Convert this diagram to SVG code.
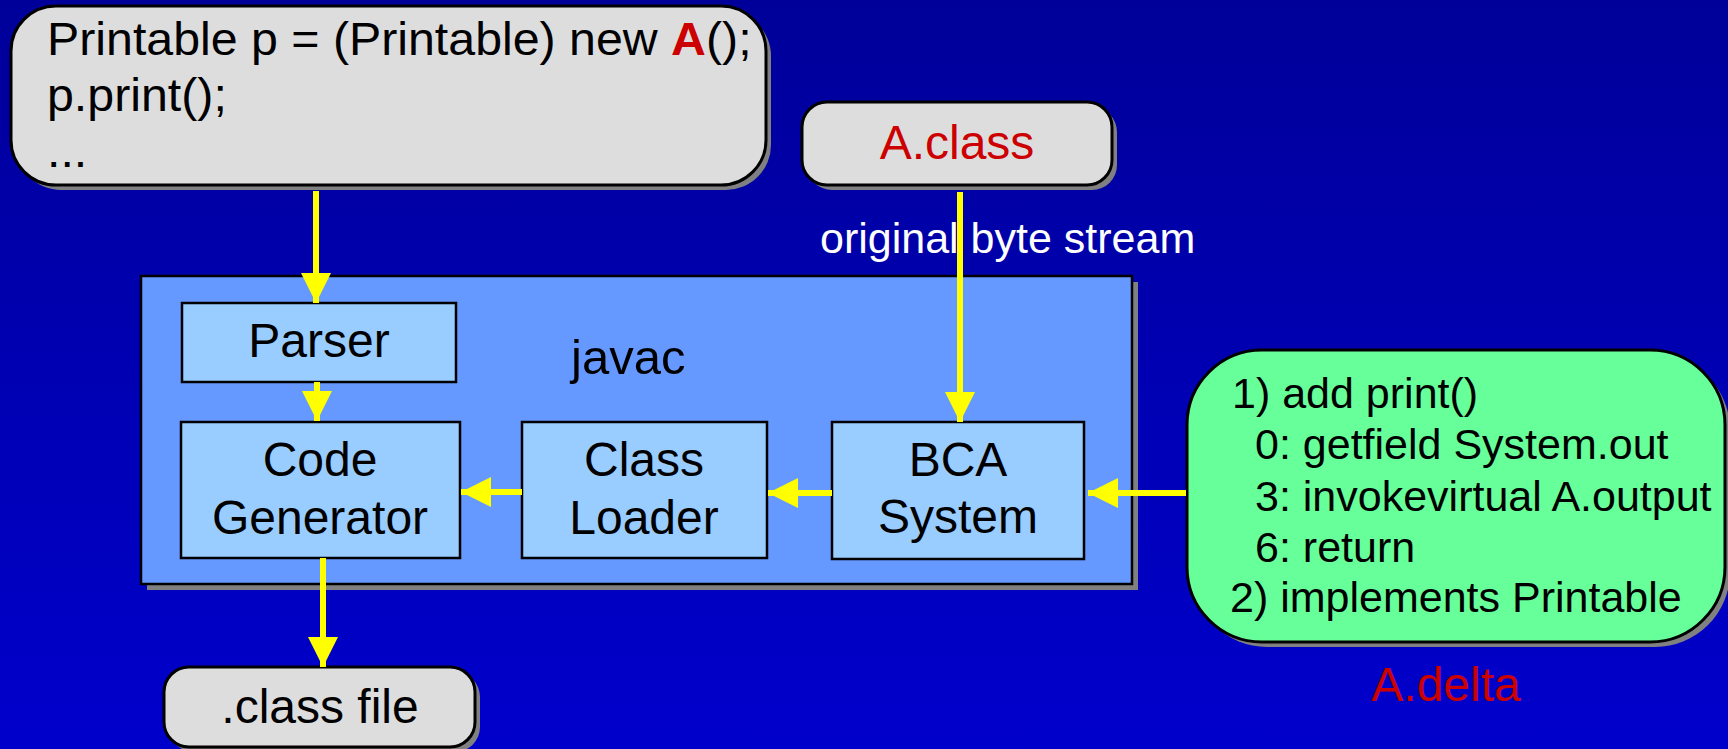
<svg xmlns="http://www.w3.org/2000/svg" width="1728" height="749" viewBox="0 0 1728 749">
  <defs>
    <linearGradient id="bg" x1="0" y1="0" x2="0" y2="1">
      <stop offset="0" stop-color="#000099"/>
      <stop offset="1" stop-color="#0000CC"/>
    </linearGradient>
    <marker id="head" markerUnits="userSpaceOnUse" markerWidth="30" markerHeight="30" refX="30" refY="15" orient="auto">
      <path d="M0,0 L30,15 L0,30 Z" fill="#FFFF00"/>
    </marker>
  </defs>
  <style>
    text { font-family: "Liberation Sans", Arial, sans-serif; fill: #000; }
    .shadow { fill: #808080; }
    .note { fill: #DDDDDD; stroke: #000; stroke-width: 3; }
    .frame { fill: #6699FF; stroke: #000; stroke-width: 2.5; }
    .unit { fill: #99CCFF; stroke: #000; stroke-width: 2.5; }
    .delta { fill: #66FF99; stroke: #000; stroke-width: 3; }
    .big { font-size: 48px; }
    .code { font-size: 46px; }
    .mid { font-size: 43px; }
    .red { fill: #CC0000; }
    .white { fill: #FFFFFF; }
    .c { text-anchor: middle; }
    .conn line { stroke: #FFFF00; stroke-width: 6; marker-end: url(#head); }
  </style>

  <rect width="1728" height="749" fill="url(#bg)"/>

  <!-- source snippet -->
  <g id="source">
    <rect class="shadow" x="16" y="11" width="755" height="179" rx="45"/>
    <rect class="note" x="11" y="6" width="755" height="179" rx="45"/>
    <g transform="translate(47,0) scale(1.05,1) translate(-47,0)">
      <text class="code" x="47" y="55">Printable p = (Printable) new <tspan class="red" font-weight="bold">A</tspan>();</text>
      <text class="code" x="47" y="111">p.print();</text>
      <text class="code" x="47" y="167">...</text>
    </g>
  </g>

  <!-- A.class input -->
  <g id="aclass">
    <rect class="shadow" x="807" y="107" width="310" height="83" rx="25"/>
    <rect class="note" x="802" y="102" width="310" height="83" rx="25"/>
    <text class="red c" font-size="48" x="957" y="159">A.class</text>
  </g>

  <text id="stream-label" class="white" font-size="43" x="820" y="253">original byte stream</text>

  <!-- javac container -->
  <g id="javac">
    <rect class="shadow" x="147" y="282" width="991" height="308"/>
    <rect class="frame" x="141" y="276" width="991" height="308"/>
    <text font-size="49" x="571" y="374">javac</text>
  </g>

  <g id="parser">
    <rect class="unit" x="182" y="303" width="274" height="79"/>
    <text class="big c" x="319" y="357">Parser</text>
  </g>

  <g id="codegen">
    <rect class="unit" x="181" y="422" width="279" height="136"/>
    <text class="big c" x="320" y="476">Code</text>
    <text class="big c" x="320" y="534">Generator</text>
  </g>

  <g id="classloader">
    <rect class="unit" x="522" y="422" width="245" height="136"/>
    <text class="big c" x="644" y="476">Class</text>
    <text class="big c" x="644" y="534">Loader</text>
  </g>

  <g id="bca">
    <rect class="unit" x="832" y="422" width="252" height="137"/>
    <text class="big c" x="958" y="476">BCA</text>
    <text class="big c" x="958" y="533">System</text>
  </g>

  <!-- A.delta patch -->
  <g id="adelta">
    <rect class="shadow" x="1192" y="355" width="538" height="292" rx="75"/>
    <rect class="delta" x="1187" y="350" width="538" height="292" rx="75"/>
    <text class="mid" x="1232" y="408">1) add print()</text>
    <text class="mid" x="1255" y="459">0: getfield System.out</text>
    <text class="mid" x="1255" y="511">3: invokevirtual A.output</text>
    <text class="mid" x="1255" y="562">6: return</text>
    <text class="mid" x="1230" y="612">2) implements Printable</text>
    <text class="red c" font-size="48" x="1446" y="701">A.delta</text>
  </g>

  <!-- output -->
  <g id="classfile">
    <rect class="shadow" x="169" y="672" width="311" height="80" rx="25"/>
    <rect class="note" x="164" y="667" width="311" height="80" rx="25"/>
    <text class="c" font-size="48" x="320" y="723">.class file</text>
  </g>

  <g id="connectors" class="conn">
    <line x1="316" y1="191" x2="316" y2="303"/>
    <line x1="317" y1="382" x2="317" y2="421"/>
    <line x1="522" y1="492" x2="461" y2="492"/>
    <line x1="832" y1="493" x2="768" y2="493"/>
    <line x1="960" y1="192" x2="960" y2="422"/>
    <line x1="1186" y1="493" x2="1088" y2="493"/>
    <line x1="323" y1="558" x2="323" y2="667"/>
  </g>
</svg>
